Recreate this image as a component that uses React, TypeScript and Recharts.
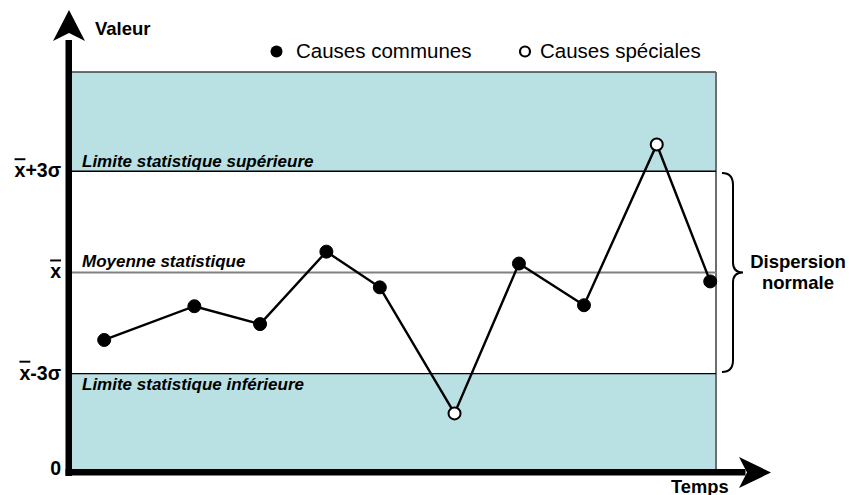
import React from 'react';
import { ComposedChart, Line, XAxis, YAxis, ReferenceArea, ReferenceLine } from 'recharts';

// Carte de contrôle : valeurs (temps en unités 0..10, valeur en unités 0..4)
const TIMES = [0.5, 1.9, 2.92, 3.95, 4.78, 5.94, 6.94, 7.95, 9.08, 9.91];
const VALUES = [1.3, 1.64, 1.46, 2.19, 1.83, 0.56, 2.07, 1.65, 3.27, 1.89];
const SPECIAL = [false, false, false, false, false, true, false, false, true, false];

const LCL = 0.96;
const MEAN = 1.98;
const UCL = 3.0;
const Y_MAX = 4;
const X_MAX = 10;

const Y_TICKS = [0, LCL, MEAN, UCL];
const Y_TICK_LABELS = ['0', 'x̄-3σ', 'x̄', 'x̄+3σ'];

const LEGEND_LABELS = ['Causes communes', 'Causes spéciales'];

const W = 849;
const H = 495;
const PLOT_LEFT = 72;
const MARGIN = { top: 72, right: 133, bottom: 26, left: 0 };
const TEAL = '#b9e0e3';
const FONT = 'Arial, "Liberation Sans", sans-serif';

const data = TIMES.map((t, i) => ({ t, v: VALUES[i], special: SPECIAL[i] }));

function YTick(props: any) {
  const { y, payload } = props;
  const idx = Y_TICKS.indexOf(payload.value);
  const label = Y_TICK_LABELS[idx] ?? String(payload.value);
  const hasBar = label.startsWith('x̄');
  const rest = hasBar ? label.slice(2) : label;
  return (
    <text x={PLOT_LEFT - 11} y={y} dy={6} textAnchor="end" fontFamily={FONT} fontWeight="bold" fontSize={19.5} fill="#000">
      {hasBar && <tspan style={{ textDecoration: 'overline' }}>x</tspan>}
      {rest && <tspan>{rest}</tspan>}
    </text>
  );
}

function renderDot(props: any) {
  const { cx, cy, payload, index } = props;
  return (
    <circle
      key={`dot-${index}`}
      cx={cx}
      cy={cy}
      r={payload.special ? 6 : 6.5}
      fill={payload.special ? '#fff' : '#000'}
      stroke="#000"
      strokeWidth={payload.special ? 2 : 1}
    />
  );
}

const lineLabel = (text: string, dy: number) => (props: any) => {
  const vb = props.viewBox;
  return (
    <text x={vb.x + 10} y={vb.y + dy} fontFamily={FONT} fontWeight="bold" fontStyle="italic" fontSize={17} fill="#000">
      {text}
    </text>
  );
};

export default function App() {
  const plotBottom = H - MARGIN.bottom;
  const braceTop = 173;
  const braceBottom = 372;
  const braceMid = (braceTop + braceBottom) / 2;
  return (
    <div style={{ position: 'relative', width: W, height: H, background: '#fff' }}>
      <style>{'body{margin:0}'}</style>
      <ComposedChart width={W} height={H} data={data} margin={MARGIN}>
        <XAxis dataKey="t" type="number" domain={[0, X_MAX]} hide height={0} />
        <YAxis
          type="number"
          domain={[0, Y_MAX]}
          ticks={Y_TICKS}
          interval={0}
          width={PLOT_LEFT}
          axisLine={false}
          tickLine={false}
          tick={YTick}
        />
        <ReferenceArea y1={UCL} y2={Y_MAX} fill={TEAL} fillOpacity={1} stroke="none" />
        <ReferenceArea y1={0} y2={LCL} fill={TEAL} fillOpacity={1} stroke="none" />
        <ReferenceLine y={Y_MAX} stroke="#404040" strokeWidth={1.5} />
        <ReferenceLine x={X_MAX} stroke="#6e6e6e" strokeWidth={2} />
        <ReferenceLine y={UCL} stroke="#000" strokeWidth={1.3} label={lineLabel('Limite statistique supérieure', -4)} />
        <ReferenceLine y={MEAN} stroke="#808080" strokeWidth={2} label={lineLabel('Moyenne statistique', -5)} />
        <ReferenceLine y={LCL} stroke="#000" strokeWidth={1.3} label={lineLabel('Limite statistique inférieure', 16)} />
        <Line
          type="linear"
          dataKey="v"
          stroke="#000"
          strokeWidth={2.4}
          dot={renderDot}
          activeDot={false}
          isAnimationActive={false}
        />
      </ComposedChart>
      <svg width={W} height={H} style={{ position: 'absolute', left: 0, top: 0, pointerEvents: 'none' }}>
        {/* axes avec flèches */}
        <rect x={65.5} y={40} width={6.5} height={plotBottom + 7 - 40} fill="#000" />
        <polygon points="69,10 53,41 69,33 85,41" fill="#000" />
        <rect x={65.5} y={plotBottom} width={680} height={6.5} fill="#000" />
        <polygon points="771,472.5 739,457 747,472.5 739,488" fill="#000" />
        <text x={95} y={35} fontFamily={FONT} fontWeight="bold" fontSize={18.5}>Valeur</text>
        <text x={671} y={493} fontFamily={FONT} fontWeight="bold" fontSize={18.3}>Temps</text>
        {/* légende */}
        <circle cx={276.5} cy={51.5} r={6} fill="#000" />
        <text x={296} y={58} fontFamily={FONT} fontSize={20.5}>{LEGEND_LABELS[0]}</text>
        <circle cx={525} cy={51.5} r={5} fill="#fff" stroke="#000" strokeWidth={2.2} />
        <text x={540} y={58} fontFamily={FONT} fontSize={20.5}>{LEGEND_LABELS[1]}</text>
        {/* accolade */}
        <path
          d={`M 722 ${braceTop} Q 733 ${braceTop} 733 ${braceTop + 12} L 733 ${braceMid - 10} Q 733 ${braceMid} 743 ${braceMid} Q 733 ${braceMid} 733 ${braceMid + 10} L 733 ${braceBottom - 12} Q 733 ${braceBottom} 722 ${braceBottom}`}
          fill="none"
          stroke="#000"
          strokeWidth={2}
        />
        <text x={798} y={268} textAnchor="middle" fontFamily={FONT} fontWeight="bold" fontSize={18.5}>Dispersion</text>
        <text x={798} y={289} textAnchor="middle" fontFamily={FONT} fontWeight="bold" fontSize={18.5}>normale</text>
      </svg>
    </div>
  );
}
